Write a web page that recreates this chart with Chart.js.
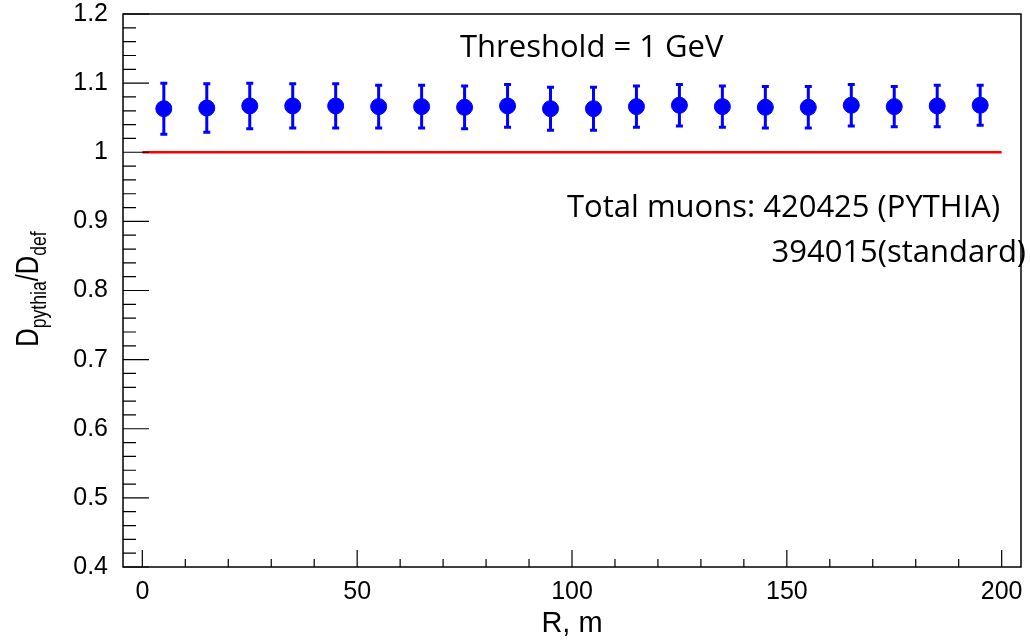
<!DOCTYPE html>
<html>
<head>
<meta charset="utf-8">
<script src="https://cdn.jsdelivr.net/npm/chart.js@4/dist/chart.umd.min.js"></script>
<style>
  html, body { margin: 0; padding: 0; background: #fff; }
  #wrap { width: 1030px; height: 641px; position: relative; }
</style>
</head>
<body>
<div id="wrap"><canvas id="c" width="1030" height="641"></canvas></div>
<script>
// bin centres (R, m)
const radii = [5, 15, 25, 35, 45, 55, 65, 75, 85, 95, 105, 115, 125, 135, 145, 155, 165, 175, 185, 195];
// D_pythia / D_def
const ratio = [1.063, 1.064, 1.067, 1.067, 1.067, 1.066, 1.066, 1.065, 1.067, 1.063,
               1.063, 1.066, 1.068, 1.066, 1.065, 1.065, 1.068, 1.066, 1.067, 1.068];
const ratioErr = [0.037, 0.035, 0.033, 0.032, 0.032, 0.031, 0.031, 0.031, 0.031, 0.031,
                  0.031, 0.030, 0.030, 0.030, 0.030, 0.030, 0.030, 0.029, 0.030, 0.029];
const refLine = [{ x: 0, y: 1 }, { x: 200, y: 1 }];
const xTicks = [0, 50, 100, 150, 200];
const yTicks = [0.4, 0.5, 0.6, 0.7, 0.8, 0.9, 1, 1.1, 1.2];
const xRange = [-4.5, 204.5];
const yRange = [0.4, 1.2];

const points = radii.map((r, i) => ({ x: r, y: ratio[i] }));
const FONT = "'Liberation Sans', Arial, sans-serif";

// error bars, drawn through the scales
const errorBars = {
  id: "errorBars",
  afterDatasetsDraw(chart) {
    const { ctx, scales: { x, y } } = chart;
    ctx.save();
    ctx.strokeStyle = "#0000ff";
    ctx.lineWidth = 3;
    radii.forEach((r, i) => {
      const px = x.getPixelForValue(r);
      const top = y.getPixelForValue(ratio[i] + ratioErr[i]);
      const bot = y.getPixelForValue(ratio[i] - ratioErr[i]);
      ctx.beginPath();
      ctx.moveTo(px, top); ctx.lineTo(px, bot);
      ctx.moveTo(px - 3.5, top); ctx.lineTo(px + 3.5, top);
      ctx.moveTo(px - 3.5, bot); ctx.lineTo(px + 3.5, bot);
      ctx.stroke();
    });
    ctx.restore();
  }
};

// ROOT-style frame, inner ticks and annotations
const rootFrame = {
  id: "rootFrame",
  afterDraw(chart) {
    const { ctx, chartArea: a, scales: { x, y } } = chart;
    ctx.save();
    ctx.strokeStyle = "#000";
    ctx.lineWidth = 1.5;
    ctx.strokeRect(a.left, a.top, a.right - a.left, a.bottom - a.top);

    ctx.lineWidth = 1.2;
    ctx.beginPath();
    for (let v = 0; v <= 200; v += 10) {
      const px = x.getPixelForValue(v);
      const len = v % 50 === 0 ? 17 : 8;
      ctx.moveTo(px, a.bottom); ctx.lineTo(px, a.bottom - len);
    }
    for (let k = 0; k <= 40; k++) {
      const v = 0.4 + k * 0.02;
      const py = y.getPixelForValue(v);
      const len = k % 5 === 0 ? 26 : 13;
      ctx.moveTo(a.left, py); ctx.lineTo(a.left + len, py);
    }
    ctx.stroke();

    // y axis title with subscripts (narrow, like the original font)
    ctx.fillStyle = "#000";
    ctx.translate(38, 289);
    ctx.rotate(-Math.PI / 2);
    ctx.scale(0.8, 1);
    const big = "32px " + FONT;
    const small = "22px " + FONT;
    const parts = [["D", big, 0], ["pythia", small, 8], ["/D", big, 0], ["def", small, 8]];
    let total = 0;
    parts.forEach(p => { ctx.font = p[1]; total += ctx.measureText(p[0]).width; });
    let cx = -total / 2;
    ctx.textBaseline = "alphabetic";
    parts.forEach(p => {
      ctx.font = p[1];
      ctx.fillText(p[0], cx, p[2]);
      cx += ctx.measureText(p[0]).width;
    });
    ctx.setTransform(1, 0, 0, 1, 0, 0);

    // annotations
    ctx.font = "31px 'Open Sans', sans-serif";
    ctx.textAlign = "left";
    ctx.fillText("Threshold = 1 GeV", 460, 57);
    ctx.fillText("Total muons: 420425 (PYTHIA)", 567, 217);
    ctx.textAlign = "right";
    ctx.fillText("394015(standard)", 1026, 262);
    ctx.restore();
  }
};

new Chart(document.getElementById("c"), {
  type: "scatter",
  data: {
    datasets: [
      {
        label: "ref",
        data: refLine,
        showLine: true,
        borderColor: "#ff0000",
        borderWidth: 2.5,
        pointRadius: 0
      },
      {
        label: "ratio",
        data: points,
        backgroundColor: "#0000ff",
        borderColor: "#0000ff",
        pointRadius: 8,
        pointHoverRadius: 8
      }
    ]
  },
  options: {
    responsive: false,
    animation: false,
    devicePixelRatio: 1,
    layout: { padding: { top: 14, right: 7, left: 0, bottom: 0 } },
    plugins: { legend: { display: false }, tooltip: { enabled: false } },
    scales: {
      x: {
        type: "linear",
        min: xRange[0], max: xRange[1],
        afterBuildTicks: s => { s.ticks = xTicks.map(v => ({ value: v })); },
        afterFit: s => { s.height = 74; s.paddingLeft = 0; s.paddingRight = 0; },
        grid: { display: false },
        border: { display: false },
        ticks: { color: "#000", font: { family: FONT, size: 25 }, padding: 2, maxRotation: 0, callback: v => String(v) },
        title: { display: true, text: "R, m", color: "#000", font: { family: FONT, size: 29 }, padding: { top: 0, bottom: 0 } }
      },
      y: {
        type: "linear",
        min: yRange[0], max: yRange[1],
        afterBuildTicks: s => { s.ticks = yTicks.map(v => ({ value: v })); },
        afterFit: s => { s.width = 123; s.paddingTop = 0; s.paddingBottom = 0; },
        grid: { display: false },
        border: { display: false },
        ticks: { color: "#000", font: { family: FONT, size: 25 }, padding: 7, callback: v => String(v) }
      }
    }
  },
  plugins: [errorBars, rootFrame]
});
</script>
</body>
</html>
